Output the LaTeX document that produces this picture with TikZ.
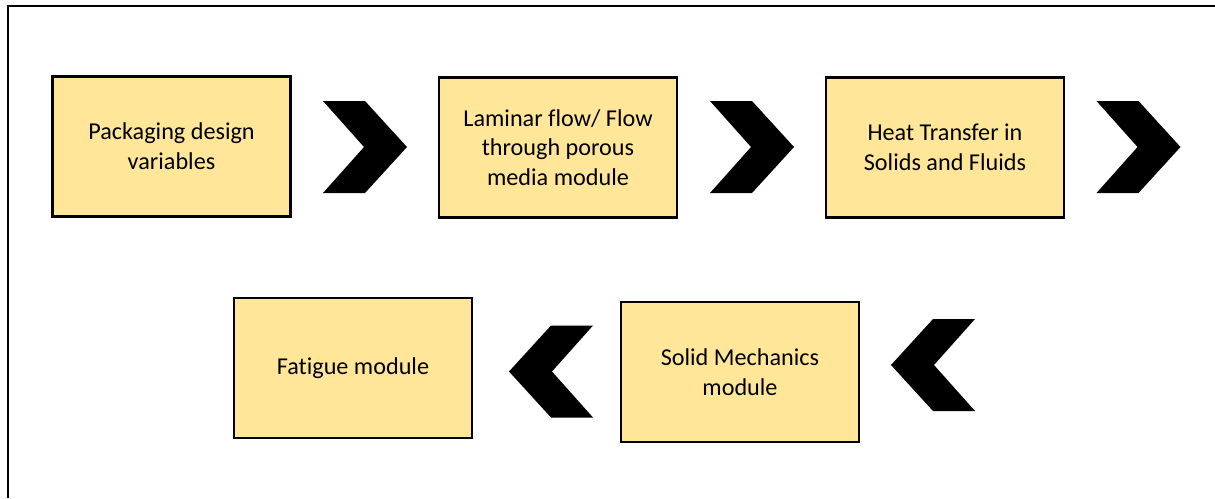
\documentclass[tikz,border=0pt]{standalone}
\usepackage{fontspec}
\setmainfont{Carlito}[Ligatures=NoCommon]
\definecolor{boxfill}{RGB}{255,230,153}
\begin{document}
\begin{tikzpicture}[x=1pt,y=-1pt,
  stage/.style={draw=black, line width=2.6pt, fill=boxfill,
    minimum width=238pt, minimum height=140pt, inner sep=0pt,
    align=center, font=\fontsize{24.2}{29.8}\selectfont},
  chevR/.pic={\fill[black] (-42,-46) -- (0,-46) -- (42,0) -- (0,46) -- (-42,46) -- (-1,0) -- cycle;},
  chevL/.pic={\fill[black] (42,-46) -- (0,-46) -- (-42,0) -- (0,46) -- (42,46) -- (1,0) -- cycle;},
  frameline/.style={line width=2pt, black}
]
\useasboundingbox (0,0) rectangle (1215,498);

% outer frame (left and top edges)
\draw[frameline] (7.8,498) -- (7.8,6) -- (1215,6);

% process stages
\node[stage] (pack) at (171.5,146.5) {Packaging design\\variables};
\node[stage] (flow) at (558,147.5) {Laminar flow/ Flow\\through porous\\media module};
\node[stage] (heat) at (945,147.5) {Heat Transfer in\\Solids and Fluids};
\node[stage] (solid) at (740,372) {Solid Mechanics\\module};
\node[stage] (fatigue) at (353,368) {Fatigue module};

% chevrons marking the order of the stages
\pic at (365,147) {chevR};
\pic at (752,147) {chevR};
\pic at (1138.5,147) {chevR};
\pic at (933,365) {chevL};
\pic at (551,371.5) {chevL};
\end{tikzpicture}
\end{document}
